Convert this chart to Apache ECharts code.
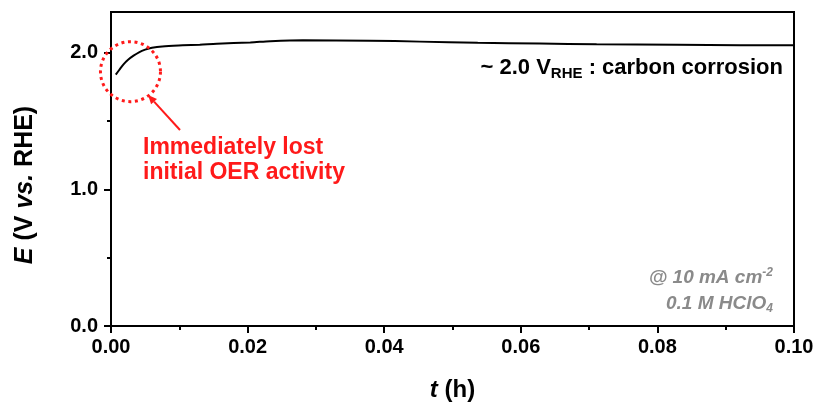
<!DOCTYPE html>
<html><head><meta charset="utf-8">
<script src="https://cdn.jsdelivr.net/npm/echarts@6/dist/echarts.min.js"></script>
<style>html,body{margin:0;padding:0;background:#fff}#c{width:814px;height:402px}</style>
</head><body><div id="c"></div>
<script>
const timeH = [0.0007,0.0012,0.0018,0.0025,0.0033,0.0041,0.005,0.006,0.0075,0.0105,0.013,0.0155,0.0204,0.0233,0.0281,0.0379,0.0452,0.0537,0.0628,0.0711,0.0829,0.0921,0.1];
const potential = [1.841,1.875,1.915,1.950,1.980,2.005,2.024,2.038,2.048,2.056,2.061,2.068,2.077,2.086,2.093,2.090,2.083,2.074,2.069,2.064,2.060,2.057,2.056];
const xTicks = [0,0.02,0.04,0.06,0.08,0.10];
const yTicks = [0,1,2];
const yMinorTicks = [0.5,1.5];
const circleCenter = [0.00285,1.863];

const FF = "'Liberation Sans', Arial, sans-serif";
const chart = echarts.init(document.getElementById('c'));
const data = timeH.map((t,i)=>[t,potential[i]]);
chart.setOption({
  animation:false,
  grid:{left:111,right:20,top:12,bottom:76,outerBoundsMode:'none',containLabel:false,show:true,borderColor:'#000',borderWidth:2,backgroundColor:'transparent'},
  xAxis:{type:'value',min:0,max:0.1,interval:0.02,
    name:'{i|t} (h)',nameLocation:'middle',nameGap:52,
    nameTextStyle:{fontFamily:FF,fontSize:24,fontWeight:'bold',color:'#000',rich:{i:{fontFamily:FF,fontSize:24,fontWeight:'bold',fontStyle:'italic',color:'#000'}}},
    axisLine:{lineStyle:{color:'#000',width:2}},
    axisTick:{length:7,lineStyle:{color:'#000',width:2}},
    minorTick:{show:true,splitNumber:2,length:4,lineStyle:{color:'#000',width:2}},
    splitLine:{show:false},
    axisLabel:{fontFamily:FF,fontSize:20,fontWeight:'bold',color:'#000',margin:11,formatter:v=>v.toFixed(2)}},
  yAxis:[{type:'value',min:0,max:2.3,
    axisLine:{show:true,lineStyle:{color:'#000',width:2}},
    axisTick:{show:true,length:7,customValues:yTicks,lineStyle:{color:'#000',width:2}},
    splitLine:{show:false},
    axisLabel:{fontFamily:FF,fontSize:20,fontWeight:'bold',color:'#000',margin:13,customValues:yTicks,formatter:v=>v.toFixed(1)}},
   {type:'value',min:0,max:2.3,position:'left',
    axisLine:{show:false},
    axisTick:{show:true,length:4,customValues:yMinorTicks,lineStyle:{color:'#000',width:2}},
    axisLabel:{show:false},splitLine:{show:false}}],
  series:[{type:'line',data:data,showSymbol:false,smooth:0.3,lineStyle:{color:'#000',width:2},yAxisIndex:0}]
});

const c = chart.convertToPixel({gridIndex:0},circleCenter);
const tail=[180,130], head=[148,95];
const ang=Math.atan2(head[1]-tail[1],head[0]-tail[0]);
const hl=9, hw=4;
const bx=head[0]-hl*Math.cos(ang), by=head[1]-hl*Math.sin(ang);
const p1=[bx+hw*Math.sin(ang),by-hw*Math.cos(ang)], p2=[bx-hw*Math.sin(ang),by+hw*Math.cos(ang)];
chart.setOption({graphic:[
  {type:'text',x:25,y:185,rotation:Math.PI/2,style:{text:'{i|E} (V {i|vs.} RHE)',align:'center',verticalAlign:'middle',
    rich:{n:{},i:{fontFamily:FF,fontSize:25,fontWeight:'bold',fontStyle:'italic',fill:'#000'}},
    fontFamily:FF,fontSize:25,fontWeight:'bold',fill:'#000'},z:100},
  {type:'circle',shape:{cx:c[0],cy:c[1],r:30},style:{fill:null,stroke:'#ff1a1a',lineWidth:3,lineDash:[3,3.6]},z:100},
  {type:'line',shape:{x1:tail[0],y1:tail[1],x2:bx,y2:by},style:{stroke:'#ff1a1a',lineWidth:2},z:100},
  {type:'polygon',shape:{points:[head,p1,p2]},style:{fill:'#ff1a1a'},z:100},
  {type:'text',x:143,y:135,style:{text:'Immediately lost\ninitial OER activity',fontFamily:FF,fontSize:23,fontWeight:'bold',fill:'#ff1a1a',lineHeight:25},z:100},
  {type:'text',x:783,y:53,style:{text:'{a|~ 2.0 V}{s|RHE}{a| : carbon corrosion}',align:'right',
    rich:{a:{fontFamily:FF,fontSize:22,fontWeight:'bold',fill:'#000',lineHeight:30},
          s:{fontFamily:FF,fontSize:15,fontWeight:'bold',fill:'#000',lineHeight:30,padding:[12,0,0,0]}}},z:100},
  {type:'text',x:773,y:266,style:{text:'{a|@ 10 mA cm}{p|-2}',align:'right',
    rich:{a:{fontFamily:FF,fontSize:19,fontWeight:'bold',fontStyle:'italic',fill:'#8a8a8a',lineHeight:24},
          p:{fontFamily:FF,fontSize:12,fontWeight:'bold',fontStyle:'italic',fill:'#8a8a8a',lineHeight:24,padding:[0,0,10,0]}}},z:100},
  {type:'text',x:773,y:292,style:{text:'{a|0.1 M HClO}{s|4}',align:'right',
    rich:{a:{fontFamily:FF,fontSize:19,fontWeight:'bold',fontStyle:'italic',fill:'#8a8a8a',lineHeight:24},
          s:{fontFamily:FF,fontSize:12,fontWeight:'bold',fontStyle:'italic',fill:'#8a8a8a',lineHeight:24,padding:[10,0,0,0]}}},z:100}
]});
</script></body></html>
